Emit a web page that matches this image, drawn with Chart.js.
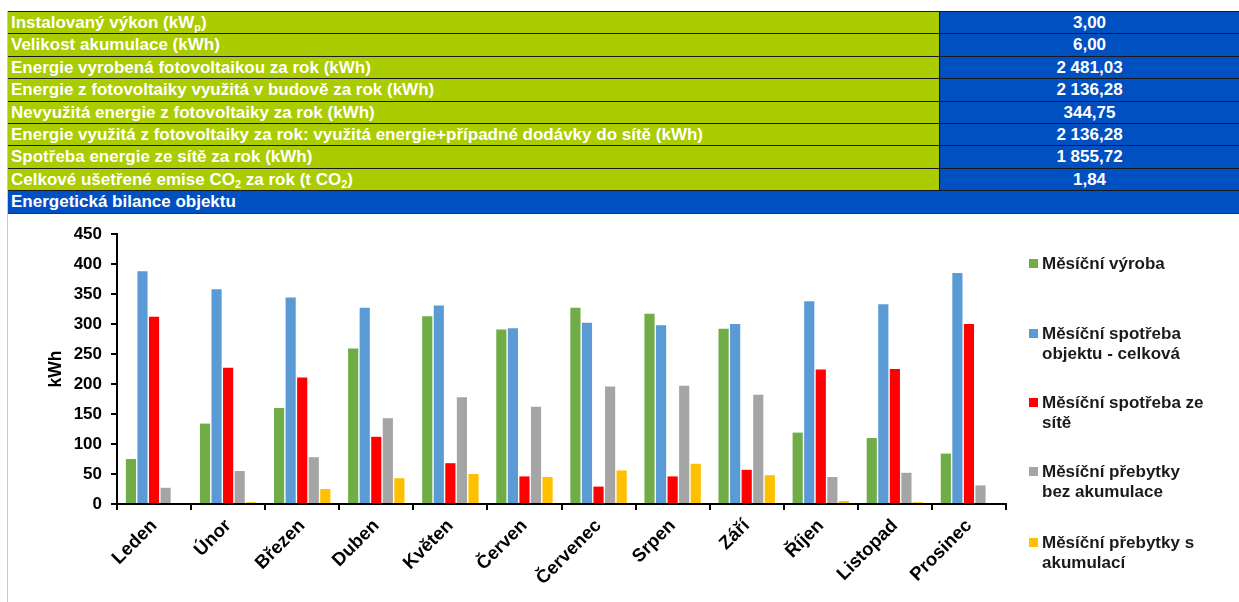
<!DOCTYPE html>
<html>
<head>
<meta charset="utf-8">
<script src="https://cdn.jsdelivr.net/npm/chart.js@4.4.1/dist/chart.umd.min.js"></script>
<style>
  html, body { margin: 0; padding: 0; background: #fff; }
  body { width: 1239px; height: 602px; position: relative; overflow: hidden; font-family: "Liberation Sans", Arial, sans-serif; }
  .vline { position: absolute; left: 7px; top: 11px; width: 1px; height: 591px; background: #c8c8c8; }
  .cell { position: absolute; box-sizing: border-box; color: #fff; font-weight: bold; font-size: 17px; line-height: 21px; white-space: nowrap; overflow: hidden; }
  .lcell { background: #AACC00; border-top: 1px solid #1a1a1a; padding-left: 3px; }
  .rcell { background: #0050C2; border-top: 1px solid #1a1a1a; border-left: 1px solid #1a1a1a; text-align: center; }
  .full { background: #0050C2; border-top: 1px solid #1a1a1a; border-bottom: 1px solid #333; padding-left: 3px; }
  sub { font-size: 11px; line-height: 0; vertical-align: -3px; }
  #chartBox { position: absolute; left: 0; top: 213px; width: 1239px; height: 389px; }
  .leg { position: absolute; left: 1029px; font-weight: bold; font-size: 17px; line-height: 19.5px; color: #1a1a1a; }
  .leg .sw { position: absolute; left: 0; top: 5px; width: 9px; height: 9px; }
  .leg .tx { position: absolute; left: 13px; top: 0; white-space: pre; }
</style>
</head>
<body>
<div class="vline"></div>
<div id="table"></div>
<div id="chartBox"><canvas id="c" width="1239" height="389"></canvas></div>
<div id="legend"></div>
<script>
// ---- table data ----
const tableLabels = [
  "Instalovaný výkon (kW<sub>p</sub>)",
  "Velikost akumulace (kWh)",
  "Energie vyrobená fotovoltaikou za rok (kWh)",
  "Energie z fotovoltaiky využitá v budově za rok (kWh)",
  "Nevyužitá energie z fotovoltaiky za rok (kWh)",
  "Energie využitá z fotovoltaiky za rok: využitá energie+případné dodávky do sítě (kWh)",
  "Spotřeba energie ze sítě za rok (kWh)",
  "Celkové ušetřené emise CO<sub>2</sub> za rok (t CO<sub>2</sub>)"
];
const tableValues = ["3,00", "6,00", "2 481,03", "2 136,28", "344,75", "2 136,28", "1 855,72", "1,84"];
const tableFooter = "Energetická bilance objektu";

// ---- chart data ----
const months = ["Leden", "Únor", "Březen", "Duben", "Květen", "Červen", "Červenec", "Srpen", "Září", "Říjen", "Listopad", "Prosinec"];
const seriesNames = [
  "Měsíční výroba",
  "Měsíční spotřeba\nobjektu - celková",
  "Měsíční spotřeba ze\nsítě",
  "Měsíční přebytky\nbez akumulace",
  "Měsíční přebytky s\nakumulací"
];
const vyroba      = [75, 134, 160, 259, 313, 291, 327, 317, 292, 119, 110, 84];
const spotreba    = [388, 358, 344, 327, 331, 293, 302, 298, 300, 338, 333, 385];
const zeSite      = [312, 227, 211, 112, 68, 46, 29, 46, 57, 224, 225, 300];
const bezAkum     = [27, 55, 78, 143, 178, 162, 196, 197, 182, 45, 52, 31];
const sAkum       = [0, 3, 25, 43, 50, 45, 56, 67, 48, 5, 3, 0];
const yTicks      = [0, 50, 100, 150, 200, 250, 300, 350, 400, 450];
const yTitle      = "kWh";

const colors = ["#70AD47", "#5B9BD5", "#FF0000", "#A5A5A5", "#FFC000"];

// ---- build table ----
const tbl = document.getElementById('table');
const rowTop = 11, rowH = 22.4;
tableLabels.forEach((lab, i) => {
  const t = rowTop + i * rowH;
  const l = document.createElement('div');
  l.className = 'cell lcell';
  l.style.cssText = `left:8px;top:${t}px;width:931px;height:${rowH + 1}px;`;
  l.innerHTML = lab;
  tbl.appendChild(l);
  const r = document.createElement('div');
  r.className = 'cell rcell';
  r.style.cssText = `left:939px;top:${t}px;width:300px;height:${rowH + 1}px;`;
  r.textContent = tableValues[i];
  tbl.appendChild(r);
});
const f = document.createElement('div');
f.className = 'cell full';
f.style.cssText = `left:8px;top:${rowTop + tableLabels.length * rowH}px;width:1231px;height:${rowH + 1}px;`;
f.textContent = tableFooter;
tbl.appendChild(f);

// ---- legend ----
const legTops = [254, 324, 393, 462, 533];
const legBox = document.getElementById('legend');
seriesNames.forEach((n, i) => {
  const d = document.createElement('div');
  d.className = 'leg';
  d.style.top = legTops[i] + 'px';
  d.innerHTML = `<div class="sw" style="background:${colors[i]}"></div><div class="tx"></div>`;
  d.querySelector('.tx').textContent = n;
  legBox.appendChild(d);
});

// ---- chart ----
const values = [vyroba, spotreba, zeSite, bezAkum, sAkum];
const font = "'Liberation Sans', Arial, sans-serif";
new Chart(document.getElementById('c'), {
  type: 'bar',
  data: {
    labels: months,
    datasets: values.map((v, i) => ({
      label: seriesNames[i].replace('\n', ' '),
      data: v,
      backgroundColor: colors[i],
      borderWidth: 0,
      barPercentage: 0.88,
      categoryPercentage: 0.78
    }))
  },
  options: {
    responsive: false,
    devicePixelRatio: 1,
    animation: false,
    layout: { padding: { top: 21, right: 233, left: 0, bottom: 0 } },
    plugins: { legend: { display: false }, tooltip: { enabled: false } },
    scales: {
      x: {
        grid: { display: true, drawOnChartArea: false, offset: true, tickLength: 6, color: '#000', lineWidth: 2 },
        border: { display: true, color: '#000', width: 2 },
        ticks: { minRotation: 45, maxRotation: 45, color: '#000', font: { family: font, size: 18.5, weight: 'bold' }, padding: 5, autoSkip: false },
        afterFit: s => { s.height = 98; }
      },
      y: {
        min: 0, max: 450,
        afterBuildTicks: s => { s.ticks = yTicks.map(v => ({ value: v })); },
        grid: { display: true, drawOnChartArea: false, tickLength: 6, color: '#000', lineWidth: 2 },
        border: { display: true, color: '#000', width: 2 },
        ticks: { color: '#000', font: { family: font, size: 17, weight: 'bold' }, padding: 9 },
        title: { display: true, text: yTitle, color: '#000', font: { family: font, size: 17.5, weight: 'bold', lineHeight: 1.2 }, padding: { top: 46, bottom: 0 } },
        afterFit: s => { s.width = 117; }
      }
    }
  }
});
</script>
</body>
</html>
